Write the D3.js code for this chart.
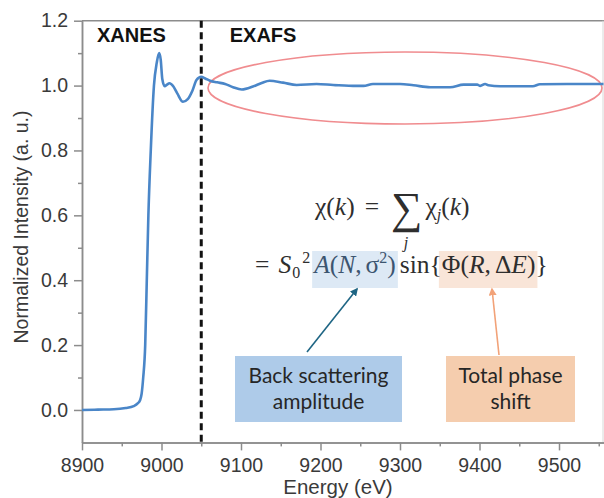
<!DOCTYPE html>
<html>
<head>
<meta charset="utf-8">
<script src="https://cdn.jsdelivr.net/npm/d3@7"></script>
<style>
  body { margin: 0; background: #fff; }
  svg { display: block; }
</style>
</head>
<body>
<div class="chart"></div>
<script>

// spectrum
const energy = [8900, 8920, 8940, 8955, 8965, 8970, 8973, 8975, 8977, 8979.5, 8981.5, 8983.5, 8986.5, 8990.5, 8994, 8997, 8999, 9001, 9004, 9007, 9010, 9015, 9020, 9027, 9033, 9039, 9044, 9050, 9055, 9061, 9070, 9080, 9090, 9101, 9115, 9126, 9136, 9153, 9170, 9195, 9216, 9245, 9254, 9266, 9300, 9317, 9338, 9363, 9380, 9397, 9401, 9407, 9411, 9426, 9467, 9476, 9510, 9556]
const intensity = [0, 0.001, 0.002, 0.006, 0.012, 0.02, 0.03, 0.05, 0.1, 0.2, 0.4, 0.6, 0.8, 1.0, 1.07, 1.10, 1.08, 1.02, 0.998, 1.003, 1.007, 0.997, 0.975, 0.950, 0.958, 0.985, 1.017, 1.027, 1.022, 1.015, 1.01, 1.005, 0.995, 0.988, 0.997, 1.008, 1.015, 1.009, 1.002, 1.005, 1.002, 0.999, 0.999, 1.005, 1.005, 1.001, 0.995, 0.995, 1.003, 1.003, 0.999, 1.005, 1.001, 0.998, 0.998, 1.004, 1.005, 1.005]

const xMajor = [8900, 9000, 9100, 9200, 9300, 9400, 9500]
const xMinor = [8950, 9050, 9150, 9250, 9350, 9450, 9550]
const yMajor = [0.0, 0.2, 0.4, 0.6, 0.8, 1.0, 1.2]
const yMinor = [0.1, 0.3, 0.5, 0.7, 0.9, 1.1]
const edgeEnergy = 9050
const regionLabels = [{text: "XANES", e: 8905}, {text: "EXAFS", e: 9072}]

const data = energy.map((e, i) => ({e: e, v: intensity[i]}))

const W = 604, H = 498
const margin = {top: 20.7, right: 0, bottom: 55.6, left: 82}

const svg = d3.select(".chart").append("svg")
  .attr("width", W)
  .attr("height", H)

const x = d3.scaleLinear()
  .domain([8900, 9556.6])
  .range([margin.left, W - margin.right])

const y = d3.scaleLinear()
  .domain([-0.1, 1.2])
  .range([H - margin.bottom, margin.top])

const axisColor = "#8c8c8c"
const labelColor = "#3a3a3a"
const sans = "'Liberation Sans', Arial, sans-serif"

// frame top + right
svg.append("line")
  .attr("x1", x(8900)).attr("x2", W)
  .attr("y1", y(1.2)).attr("y2", y(1.2))
  .attr("stroke", axisColor).attr("stroke-width", 1.5)
svg.append("line")
  .attr("x1", W - 1).attr("x2", W - 1)
  .attr("y1", y(1.2)).attr("y2", y(-0.1))
  .attr("stroke", "#d8d8d8").attr("stroke-width", 1)

function styleAxis(g) {
  g.select(".domain").attr("stroke", axisColor).attr("stroke-width", 1.5)
  g.selectAll(".tick line").attr("stroke", axisColor).attr("stroke-width", 1.5)
  g.selectAll(".tick text")
    .attr("fill", labelColor)
    .style("font-family", sans)
    .style("font-size", "19.5px")
}

// x axis
svg.append("g")
  .attr("transform", "translate(0," + y(-0.1) + ")")
  .call(d3.axisBottom(x).tickValues(xMinor).tickSize(4).tickFormat("").tickSizeOuter(0))
  .call(styleAxis)
svg.append("g")
  .attr("transform", "translate(0," + y(-0.1) + ")")
  .call(d3.axisBottom(x).tickValues(xMajor).tickSize(8).tickPadding(8).tickFormat(d3.format("d")).tickSizeOuter(0))
  .call(styleAxis)

// y axis
svg.append("g")
  .attr("transform", "translate(" + x(8900) + ",0)")
  .call(d3.axisLeft(y).tickValues(yMinor).tickSize(4).tickFormat("").tickSizeOuter(0))
  .call(styleAxis)
svg.append("g")
  .attr("transform", "translate(" + x(8900) + ",0)")
  .call(d3.axisLeft(y).tickValues(yMajor).tickSize(8).tickPadding(6).tickFormat(d3.format(".1f")).tickSizeOuter(0))
  .call(styleAxis)

// axis titles
svg.append("text")
  .attr("x", 338).attr("y", 494)
  .attr("text-anchor", "middle")
  .attr("fill", labelColor)
  .style("font-family", sans)
  .style("font-size", "20.5px")
  .text("Energy (eV)")

svg.append("text")
  .attr("transform", "translate(28,227) rotate(-90)")
  .attr("text-anchor", "middle")
  .attr("fill", labelColor)
  .style("font-family", sans)
  .style("font-size", "19.5px")
  .text("Normalized Intensity (a. u.)")

// XANES / EXAFS dashed divider
svg.append("line")
  .attr("x1", x(edgeEnergy)).attr("x2", x(edgeEnergy))
  .attr("y1", y(1.2)).attr("y2", y(-0.1))
  .attr("stroke", "#111").attr("stroke-width", 3)
  .attr("stroke-dasharray", "7,4.5")

svg.selectAll(".region")
  .data(regionLabels)
  .enter()
  .append("text")
    .attr("x", d => x(d.e) + 11)
    .attr("y", 42)
    .attr("fill", "#111")
    .style("font-family", sans)
    .style("font-size", "20px")
    .style("font-weight", "bold")
    .text(d => d.text)

// red ellipse round the EXAFS oscillations
svg.append("ellipse")
  .attr("cx", 405).attr("cy", 88)
  .attr("rx", 197).attr("ry", 36)
  .attr("fill", "none")
  .attr("stroke", "#f08c8f")
  .attr("stroke-width", 1.6)

// spectrum
const line = d3.line()
  .x(d => x(d.e))
  .y(d => y(d.v))
  .curve(d3.curveMonotoneX)

svg.append("path")
  .datum(data)
  .attr("d", line)
  .attr("fill", "none")
  .attr("stroke", "#4a86c8")
  .attr("stroke-width", 2.6)
  .attr("stroke-linejoin", "round")

// ---- equation ----
const hlLayer = svg.append("g")
const eq = svg.append("g")
  .attr("fill", "#2e2e2e")
  .style("font-family", "'Liberation Serif', 'DejaVu Serif', serif")

function layout(x0, base, pieces, fs) {
  let cx = x0
  pieces.forEach(p => {
    cx += (p.gap || 0)
    const t = eq.append("text")
      .attr("x", cx)
      .attr("y", base + (p.dy || 0))
      .style("font-size", (p.size || fs) + "px")
      .style("font-style", p.it ? "italic" : "normal")
      .text(p.t)
    if (p.fill) t.attr("fill", p.fill)
    p.x0 = cx
    cx += t.node().getComputedTextLength()
    p.x1 = cx
  })
  return pieces
}

const fs = 25.5
const l1 = layout(315, 215, [
  {t: "χ"}, {t: "("}, {t: "k", it: true}, {t: ")"},
  {t: "=", gap: 10},
  {t: "∑", size: 44, gap: 12, dy: 8},
  {t: "χ", gap: 3}, {t: "j", it: true, size: 16, dy: 5}, {t: "("}, {t: "k", it: true}, {t: ")"}
], fs)
// summation index under the sigma
layout((l1[5].x0 + l1[5].x1) / 2 - 3, 248, [{t: "j", it: true, size: 16}], fs)

const blue = "#3c5570"
const l2 = layout(255, 273, [
  {t: "="},
  {t: "S", it: true, gap: 9},
  {t: "0", size: 16, dy: 5, gap: 1},
  {t: "2", size: 16, dy: -10, gap: 2},
  {t: "A", it: true, gap: 4, fill: blue}, {t: "(", fill: blue}, {t: "N", it: true, fill: blue}, {t: ",", fill: blue},
  {t: "σ", gap: 4, fill: blue}, {t: "2", size: 16, dy: -10, fill: blue}, {t: ")", fill: blue},
  {t: "sin{", gap: 4},
  {t: "Φ"}, {t: "("}, {t: "R", it: true}, {t: ","}, {t: "Δ", gap: 4}, {t: "E", it: true}, {t: ")"},
  {t: "}"}
], fs)

// highlight boxes behind the terms
hlLayer.append("rect")
  .attr("x", l2[4].x0 - 2).attr("y", 251)
  .attr("width", l2[10].x1 - l2[4].x0 + 4).attr("height", 37)
  .attr("fill", "#dde9f5")
hlLayer.append("rect")
  .attr("x", l2[12].x0 - 3).attr("y", 251)
  .attr("width", l2[18].x1 - l2[12].x0 + 5).attr("height", 37)
  .attr("fill", "#f9e5d8")

// ---- callout boxes ----
const boxes = [
  {lines: ["Back scattering", "amplitude"], x0: 235, x1: 402, fill: "#aecbe9", arrow: [[307, 352], [357, 289]], stroke: "#1e6584"},
  {lines: ["Total phase", "shift"], x0: 446, x1: 575, fill: "#f5cdae", arrow: [[499, 355], [492, 289]], stroke: "#f2a278"}
]

const defs = svg.append("defs")
boxes.forEach((b, i) => {
  defs.append("marker")
    .attr("id", "ah" + i)
    .attr("viewBox", "0 0 10 10")
    .attr("refX", 8).attr("refY", 5)
    .attr("markerWidth", 5).attr("markerHeight", 5)
    .attr("orient", "auto")
    .append("path")
      .attr("d", "M0,0 L10,5 L0,10 z")
      .attr("fill", b.stroke)
})

const bx = svg.selectAll(".callout")
  .data(boxes)
  .enter()
  .append("g")

bx.append("rect")
  .attr("x", d => d.x0).attr("y", 356)
  .attr("width", d => d.x1 - d.x0).attr("height", 66)
  .attr("fill", d => d.fill)

bx.append("line")
  .attr("x1", d => d.arrow[0][0]).attr("y1", d => d.arrow[0][1])
  .attr("x2", d => d.arrow[1][0]).attr("y2", d => d.arrow[1][1])
  .attr("stroke", d => d.stroke)
  .attr("stroke-width", 1.6)
  .attr("marker-end", (d, i) => "url(#ah" + i + ")")

bx.each(function(d) {
  d3.select(this).selectAll(".lbl")
    .data(d.lines)
    .enter()
    .append("text")
      .attr("x", (d.x0 + d.x1) / 2)
      .attr("y", (t, j) => 383 + j * 25.5)
      .attr("text-anchor", "middle")
      .attr("fill", "#262626")
      .style("font-family", "Lato, 'Open Sans', sans-serif")
      .style("font-size", "21px")
      .text(t => t)
})

</script>
</body>
</html>
